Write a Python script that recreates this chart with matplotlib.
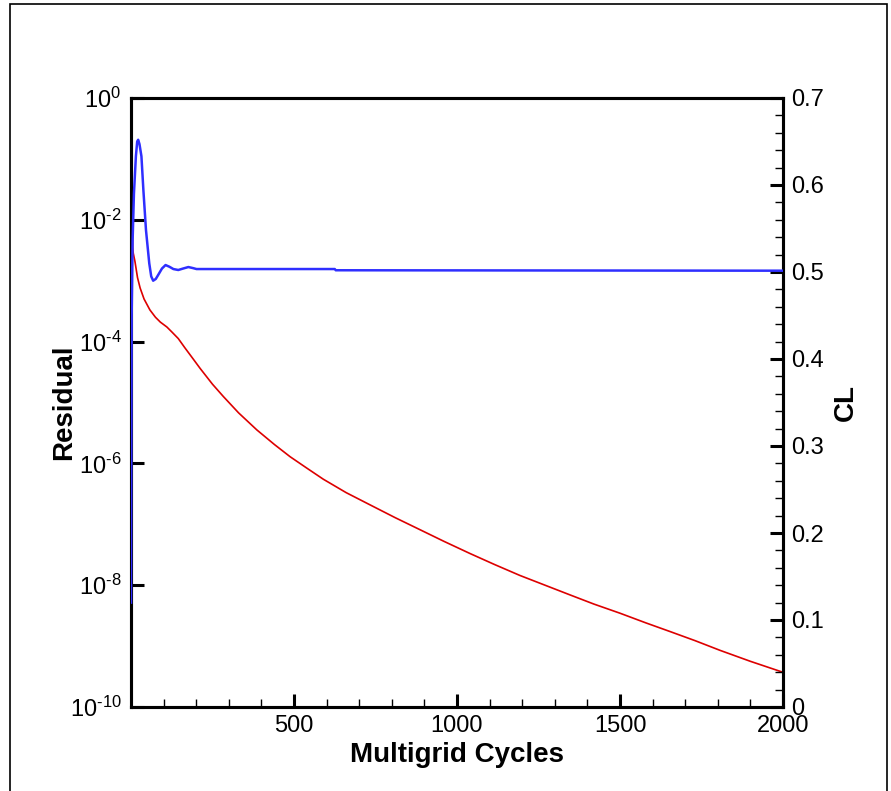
import matplotlib
matplotlib.use("Agg")
import matplotlib.pyplot as plt
from matplotlib.ticker import FixedLocator, MultipleLocator, FuncFormatter, FormatStrFormatter
from matplotlib.patches import Rectangle
import math

plt.rcParams['font.family'] = ['Liberation Sans', 'DejaVu Sans']
plt.rcParams['mathtext.fontset'] = 'custom'
plt.rcParams['mathtext.rm'] = 'Liberation Sans'
plt.rcParams['mathtext.it'] = 'Liberation Sans'
plt.rcParams['mathtext.bf'] = 'Liberation Sans:bold'

# Residual (log10) vs multigrid cycle
res_iter = [3, 5, 7, 12, 20, 28, 40, 58, 75, 90, 110, 125, 145, 165, 190, 212, 250,
            283, 330, 386, 440, 488, 540, 590, 660, 733, 810, 887, 960, 1040, 1115,
            1193, 1270, 1347, 1420, 1500, 1580, 1653, 1730, 1807, 1900, 2000]
res_log = [-1.72, -2.45, -2.55, -2.68, -2.95, -3.12, -3.30, -3.48, -3.60, -3.68, -3.76,
           -3.84, -3.95, -4.10, -4.28, -4.44, -4.70, -4.90, -5.17, -5.45, -5.69, -5.89,
           -6.08, -6.26, -6.48, -6.68, -6.89, -7.09, -7.28, -7.48, -7.66, -7.84, -8.00,
           -8.16, -8.31, -8.46, -8.62, -8.76, -8.91, -9.07, -9.25, -9.43]
residual = [10 ** v for v in res_log]

# Lift coefficient vs multigrid cycle
cl_iter = [0, 1, 2, 5, 9, 15, 19, 22, 26, 32, 38, 46, 56, 62, 68, 76, 84, 95, 106,
           118, 130, 145, 160, 176, 190, 201, 625, 628, 2000]
cl_vals = [0.12, 0.30, 0.45, 0.537, 0.59, 0.633, 0.650, 0.652, 0.647, 0.633, 0.594,
           0.548, 0.510, 0.495, 0.490, 0.492, 0.497, 0.504, 0.508, 0.506, 0.5034,
           0.5023, 0.504, 0.5057, 0.5045, 0.5034, 0.5034, 0.5020, 0.5015]

x_ticks = [500, 1000, 1500, 2000]
res_ticks = [1e0, 1e-2, 1e-4, 1e-6, 1e-8, 1e-10]
cl_ticks = [0, 0.1, 0.2, 0.3, 0.4, 0.5, 0.6, 0.7]

fig = plt.figure(figsize=(8.91, 7.91), dpi=100)
fig.patches.append(Rectangle((10 / 891, -0.02), 877 / 891, 1.02 - 4 / 791,
                             transform=fig.transFigure, fill=False,
                             edgecolor='black', linewidth=1.2))

ax = fig.add_axes([131 / 891, 1 - 707 / 791, 652 / 891, 609 / 791])
ax2 = ax.twinx()

ax.plot(res_iter, residual, color='#dd0000', lw=1.2, zorder=2)
ax2.plot(cl_iter, cl_vals, color='#2f2fff', lw=1.8, zorder=3)

ax.set_yscale('log')
ax.set_ylim(1e-10, 1e0)
ax.set_xlim(0, 2000)
ax2.set_ylim(0, 0.7)


def pow_label(v, pos):
    e = int(round(math.log10(v)))
    if e < 0:
        return r'$10^{\text{-}%d}$' % (-e)
    return r'$10^{%d}$' % e


ax.yaxis.set_major_locator(FixedLocator(res_ticks))
ax.yaxis.set_minor_locator(FixedLocator([]))
ax.yaxis.set_major_formatter(FuncFormatter(pow_label))
ax.xaxis.set_major_locator(FixedLocator(x_ticks))
ax.xaxis.set_minor_locator(MultipleLocator(100))
ax2.yaxis.set_major_locator(FixedLocator(cl_ticks))
ax2.yaxis.set_minor_locator(MultipleLocator(0.02))
ax2.yaxis.set_major_formatter(FormatStrFormatter('%g'))

for a in (ax, ax2):
    for s in a.spines.values():
        s.set_linewidth(2.2)
    a.tick_params(which='major', direction='in', length=9.5, width=2.2,
                  labelsize=17, pad=6)
    a.tick_params(which='minor', direction='in', length=5.8, width=1.0)

ax.tick_params(axis='x', which='both', top=False)
ax.tick_params(axis='y', which='major', pad=7)
ax2.tick_params(axis='y', which='both', left=False, right=True)

ax.set_xlabel('Multigrid Cycles', fontsize=20, fontweight='bold')
ax.xaxis.set_label_coords(0.5, -0.058)
ax.set_ylabel('Residual', fontsize=20, fontweight='bold')
ax.yaxis.set_label_coords(-0.083, 0.5)
ax2.set_ylabel('CL', fontsize=20, fontweight='bold', rotation=90)
ax2.yaxis.set_label_coords(1.077, 0.5)

fig.savefig('out.png', dpi=100)
